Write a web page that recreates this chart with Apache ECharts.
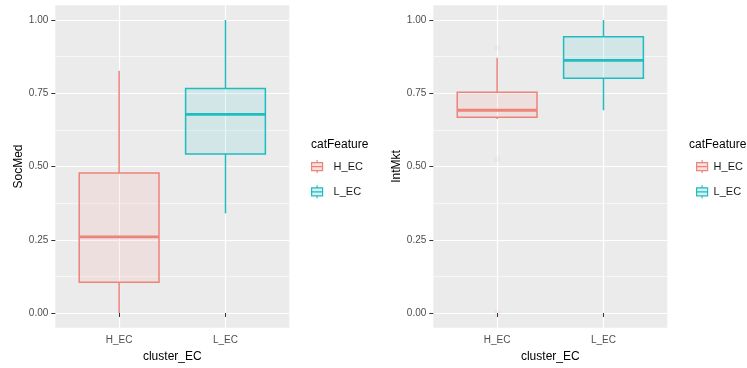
<!DOCTYPE html>
<html>
<head>
<meta charset="utf-8">
<script src="https://cdn.jsdelivr.net/npm/echarts@6/dist/echarts.min.js"></script>
<style>
html,body{margin:0;padding:0;background:#fff;}
#main{width:747px;height:368px;}
</style>
</head>
<body>
<div id="main"></div>
<script>
// ---- data ----
const categories = ['H_EC', 'L_EC'];
// [min, Q1, median, Q3, max]
const socMedStats = [
  [0.00, 0.105, 0.260, 0.478, 0.827],
  [0.340, 0.543, 0.678, 0.766, 1.00]
];
const intMktStats = [
  [0.662, 0.668, 0.692, 0.753, 0.871],
  [0.692, 0.801, 0.862, 0.943, 1.00]
];
// outliers: [category index, value]
const intMktOutliers = [[0, 0.905], [0, 0.525], [0, 0.00]];
const yTicks = [0, 0.25, 0.50, 0.75, 1.00];
const yMinorTicks = [0.125, 0.375, 0.625, 0.875];
const yTitles = ['SocMed', 'IntMkt'];
const xTitle = 'cluster_EC';
const legendTitle = 'catFeature';

// ---- styles ----
const FONT = 'Liberation Sans, Arial, sans-serif';
const lineColors = ['#EE837A', '#1FBCC0'];
const fillColors = ['rgba(248,118,109,0.10)', 'rgba(0,191,196,0.10)'];
const legendFills = ['#F7E1DF', '#D8EFF0'];
const xPos = categories.map((c, i) => i + 1);

const chart = echarts.init(document.getElementById('main'), null, {renderer: 'canvas'});

const grids = [
  {left: 55.3, top: 5.35, width: 234, height: 322.3},
  {left: 433.3, top: 5.35, width: 234, height: 322.3}
];

function xAxisFor(gi) {
  return {
    type: 'value', gridIndex: gi, min: 0.4, max: 2.6,
    name: xTitle, nameLocation: 'middle', nameGap: 17,
    nameTextStyle: {fontSize: 12, color: '#000', fontFamily: FONT},
    axisLine: {show: false},
    axisTick: {show: true, length: 4, lineStyle: {color: '#333', width: 1}, customValues: xPos},
    axisLabel: {show: true, margin: 8, fontSize: 10, color: '#4D4D4D', fontFamily: FONT,
      customValues: xPos,
      formatter: v => categories[Math.round(v) - 1]},
    splitLine: {show: true, lineStyle: {color: '#FFFFFF', width: 1.2}}
  };
}
function yAxisMajor(gi, title, gap) {
  return {
    type: 'value', gridIndex: gi, min: -0.05, max: 1.05,
    name: title, nameLocation: 'middle', nameGap: gap,
    nameTextStyle: {fontSize: 12, color: '#000', fontFamily: FONT},
    axisLine: {show: false},
    axisTick: {show: true, length: 4, lineStyle: {color: '#333', width: 1}, customValues: yTicks},
    axisLabel: {show: true, margin: 7, fontSize: 10, color: '#4D4D4D', fontFamily: FONT,
      customValues: yTicks, formatter: v => v.toFixed(2)},
    splitLine: {show: true, lineStyle: {color: '#FFFFFF', width: 1.2}}
  };
}
function yAxisMinor(gi) {
  return {
    type: 'value', gridIndex: gi, min: -0.05, max: 1.05, position: 'left',
    axisLine: {show: false},
    axisTick: {show: false, customValues: yMinorTicks},
    axisLabel: {show: false, customValues: yMinorTicks},
    splitLine: {show: true, lineStyle: {color: '#FFFFFF', width: 0.6}}
  };
}

function boxRenderer(ci) {
  return function (params, api) {
    const x = api.value(0);
    const vmin = api.value(1), q1 = api.value(2), med = api.value(3), q3 = api.value(4), vmax = api.value(5);
    const hw = 0.375;
    const pQ3L = api.coord([x - hw, q3]);
    const pQ1R = api.coord([x + hw, q1]);
    const pMedL = api.coord([x - hw, med]);
    const pMedR = api.coord([x + hw, med]);
    const pTop = api.coord([x, vmax]);
    const pQ3 = api.coord([x, q3]);
    const pQ1 = api.coord([x, q1]);
    const pBot = api.coord([x, vmin]);
    const stroke = lineColors[ci];
    return {
      type: 'group',
      children: [
        {type: 'line', shape: {x1: pTop[0], y1: pTop[1], x2: pQ3[0], y2: pQ3[1]},
         style: {stroke: stroke, lineWidth: 1.5}},
        {type: 'line', shape: {x1: pQ1[0], y1: pQ1[1], x2: pBot[0], y2: pBot[1]},
         style: {stroke: stroke, lineWidth: 1.5}},
        {type: 'rect', shape: {x: pQ3L[0], y: pQ3L[1], width: pQ1R[0] - pQ3L[0], height: pQ1R[1] - pQ3L[1]},
         style: {fill: fillColors[ci], stroke: stroke, lineWidth: 1.5}},
        {type: 'line', shape: {x1: pMedL[0], y1: pMedL[1], x2: pMedR[0], y2: pMedR[1]},
         style: {stroke: stroke, lineWidth: 2.8}}
      ]
    };
  };
}

const series = [];
[socMedStats, intMktStats].forEach((stats, gi) => {
  stats.forEach((s, ci) => {
    series.push({
      type: 'custom', name: categories[ci],
      xAxisIndex: gi, yAxisIndex: gi * 2,
      renderItem: boxRenderer(ci),
      encode: {x: 0, y: [1, 2, 3, 4, 5]},
      data: [[xPos[ci]].concat(s)],
      z: 3
    });
  });
});
series.push({
  type: 'scatter', name: 'outliers',
  xAxisIndex: 1, yAxisIndex: 2,
  symbolSize: 6,
  itemStyle: {color: 'rgba(248,118,109,0.10)'},
  data: intMktOutliers.map(o => [xPos[o[0]], o[1]]),
  z: 2
});

const iconPath = 'path://M0,2.5 L11,2.5 L11,10.5 L0,10.5 Z M0,6.5 L11,6.5 M5.5,0 L5.5,2.5 M5.5,10.5 L5.5,13';
function legendFor(left, pad) {
  return {
    orient: 'vertical', left: left, top: 159.5, padding: 0,
    itemWidth: 11, itemHeight: 13, itemGap: 11,
    selectedMode: false,
    textStyle: {fontSize: 11, color: '#1A1A1A', fontFamily: FONT, padding: [0, 0, 0, pad]},
    data: categories.map((c, ci) => ({
      name: c, icon: iconPath,
      itemStyle: {color: legendFills[ci], borderColor: lineColors[ci], borderWidth: 1.2}
    }))
  };
}

const option = {
  animation: false,
  backgroundColor: '#FFFFFF',
  title: [
    {text: legendTitle, left: 311, top: 139, padding: 0, textStyle: {fontSize: 12, fontWeight: 'normal', color: '#000', fontFamily: FONT}},
    {text: legendTitle, left: 689, top: 139, padding: 0, textStyle: {fontSize: 12, fontWeight: 'normal', color: '#000', fontFamily: FONT}}
  ],
  legend: [legendFor(311, 6), legendFor(696, 1)],
  grid: grids.map(g => Object.assign({show: true, backgroundColor: '#EBEBEB', borderWidth: 0, containLabel: false}, g)),
  xAxis: [xAxisFor(0), xAxisFor(1)],
  yAxis: [yAxisMajor(0, yTitles[0], 31), yAxisMinor(0), yAxisMajor(1, yTitles[1], 28), yAxisMinor(1)],
  series: series
};
chart.setOption(option);
</script>
</body>
</html>
